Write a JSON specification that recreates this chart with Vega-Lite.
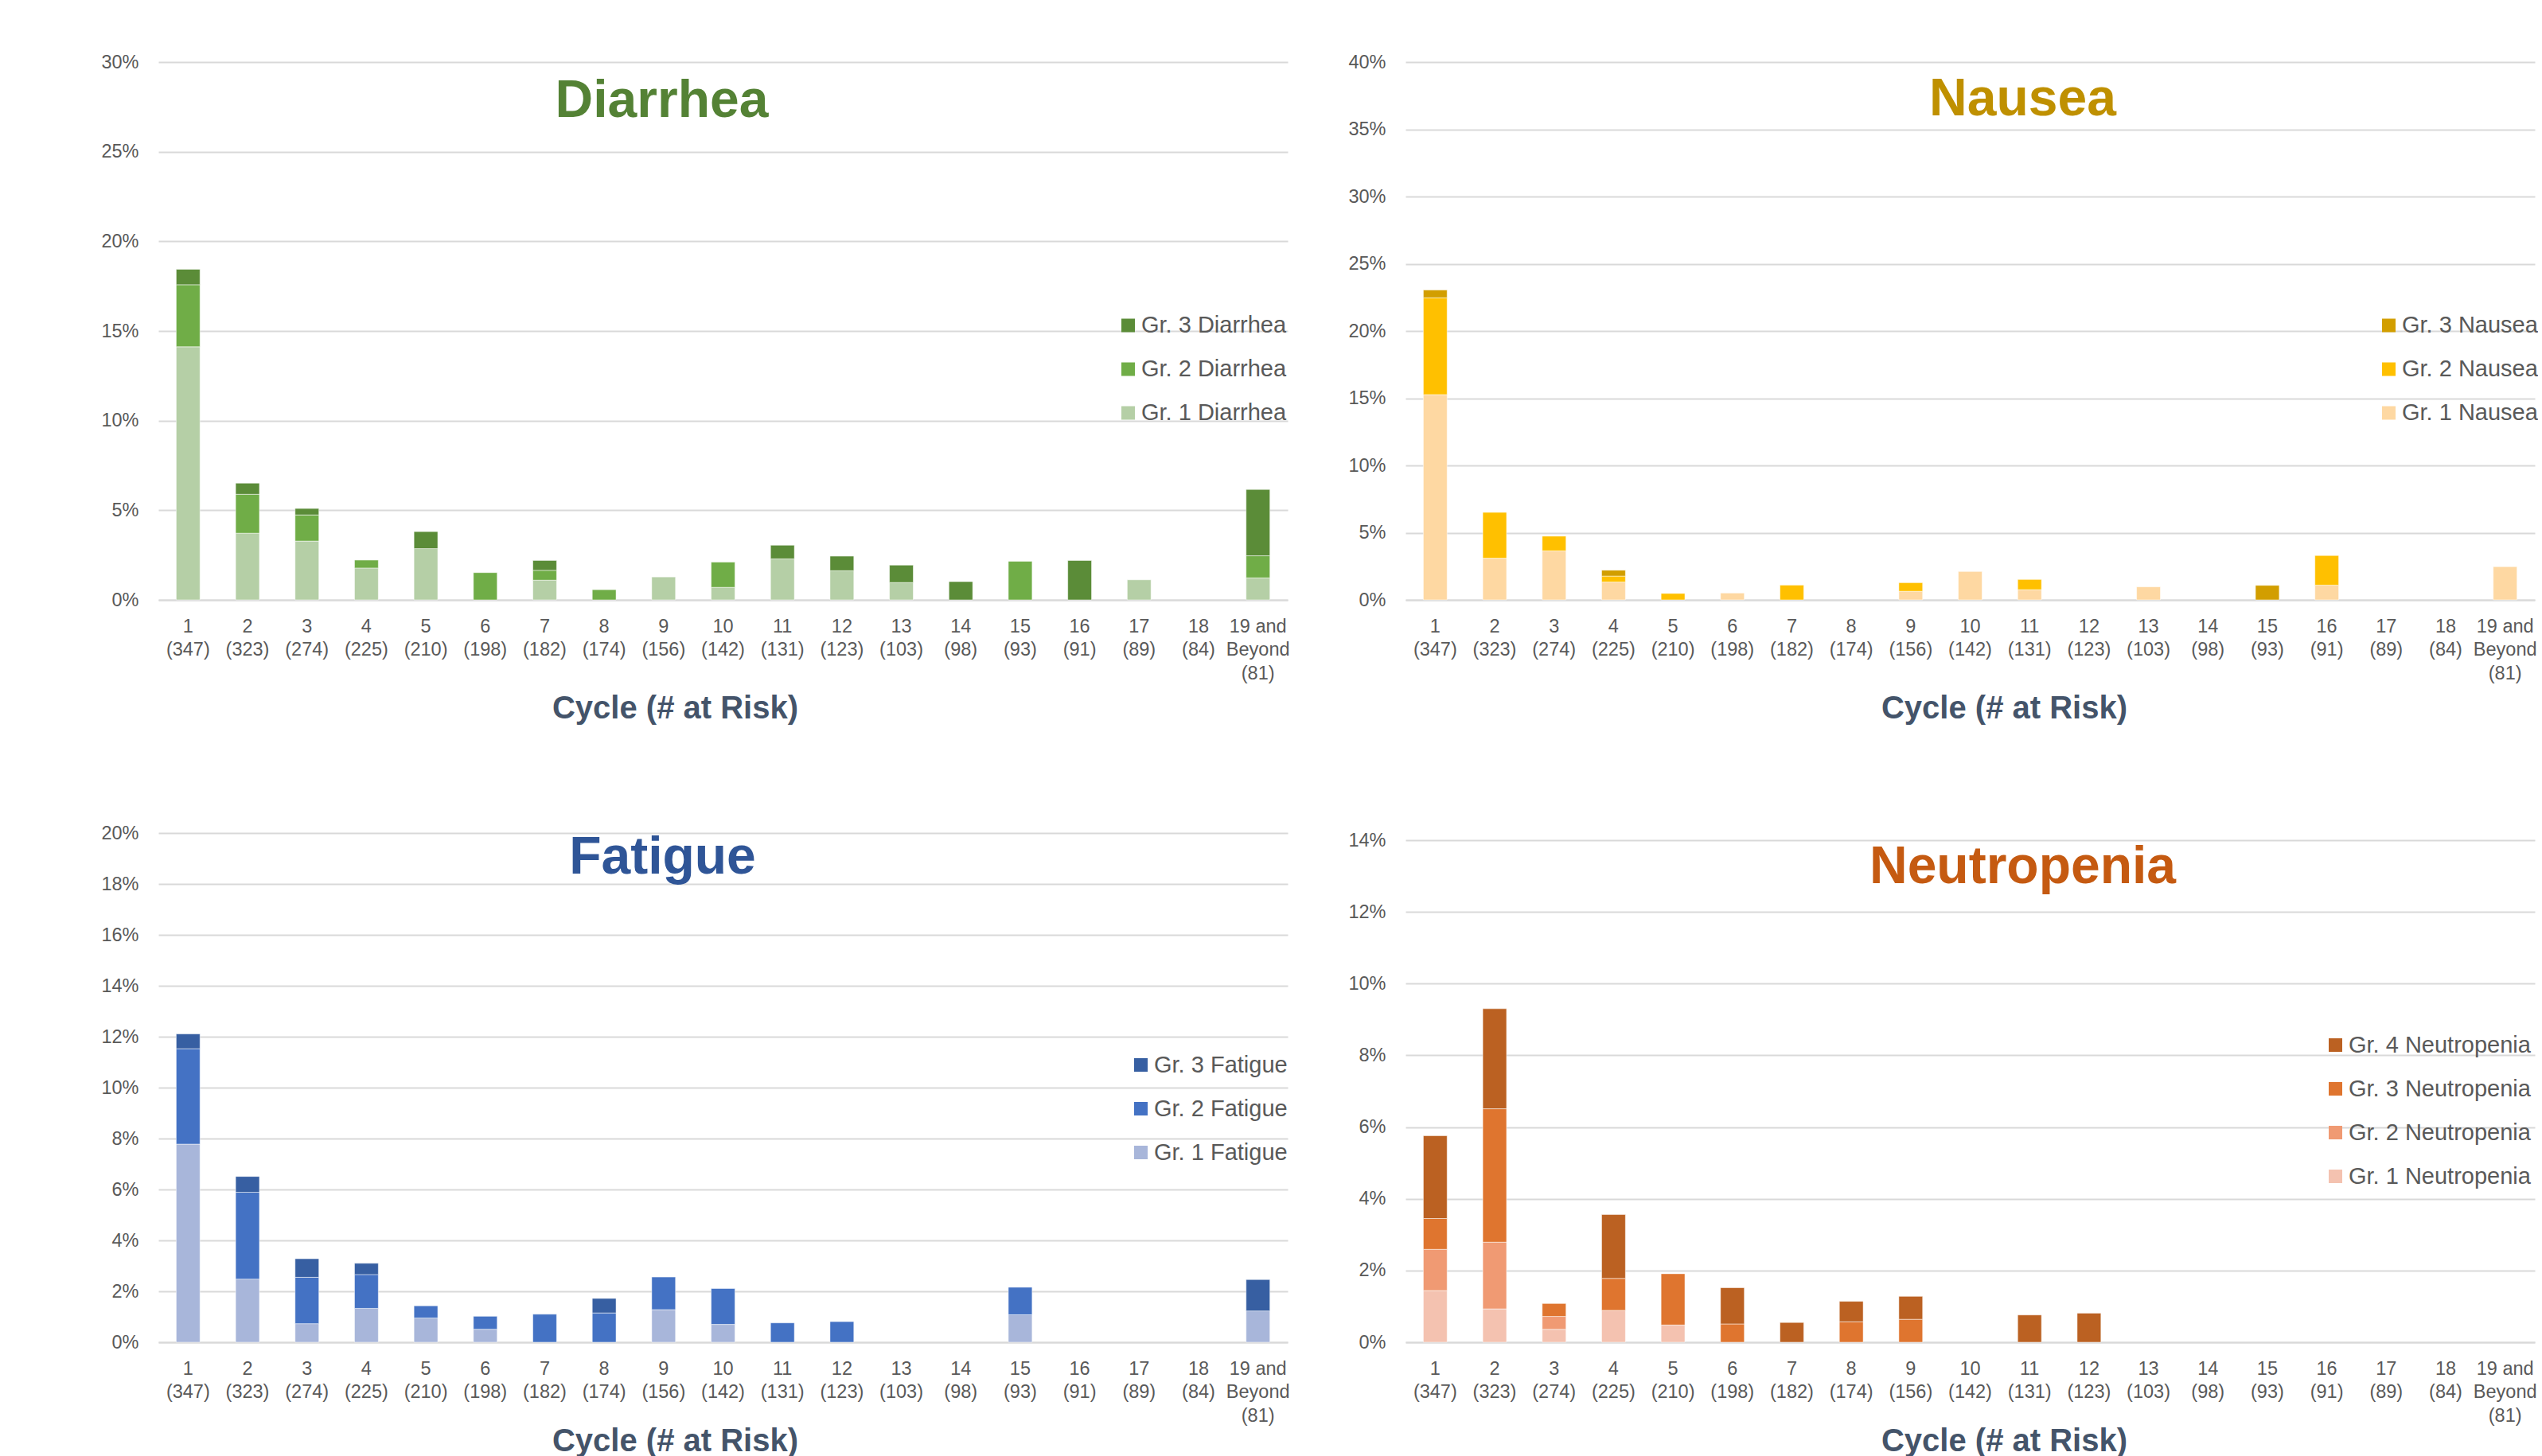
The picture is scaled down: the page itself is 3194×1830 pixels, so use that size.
{
  "$schema": "https://vega.github.io/schema/vega-lite/v6.json",
  "background": "white",
  "padding": {"left": 126, "top": 66, "right": 0, "bottom": 0},
  "bounds": "flush",
  "columns": 2,
  "spacing": {"row": 293, "column": 148},
  "resolve": {"scale": {"color": "independent", "x": "independent", "y": "independent"}, "legend": {"color": "independent"}},
  "datasets": {
    "rows": [
      {"panel": "Diarrhea", "cycle": "1|(347)", "grade": 1, "series": "Gr. 1 Diarrhea", "pct": 14.12},
      {"panel": "Diarrhea", "cycle": "1|(347)", "grade": 2, "series": "Gr. 2 Diarrhea", "pct": 3.46},
      {"panel": "Diarrhea", "cycle": "1|(347)", "grade": 3, "series": "Gr. 3 Diarrhea", "pct": 0.86},
      {"panel": "Diarrhea", "cycle": "2|(323)", "grade": 1, "series": "Gr. 1 Diarrhea", "pct": 3.72},
      {"panel": "Diarrhea", "cycle": "2|(323)", "grade": 2, "series": "Gr. 2 Diarrhea", "pct": 2.17},
      {"panel": "Diarrhea", "cycle": "2|(323)", "grade": 3, "series": "Gr. 3 Diarrhea", "pct": 0.62},
      {"panel": "Diarrhea", "cycle": "3|(274)", "grade": 1, "series": "Gr. 1 Diarrhea", "pct": 3.28},
      {"panel": "Diarrhea", "cycle": "3|(274)", "grade": 2, "series": "Gr. 2 Diarrhea", "pct": 1.46},
      {"panel": "Diarrhea", "cycle": "3|(274)", "grade": 3, "series": "Gr. 3 Diarrhea", "pct": 0.36},
      {"panel": "Diarrhea", "cycle": "4|(225)", "grade": 1, "series": "Gr. 1 Diarrhea", "pct": 1.78},
      {"panel": "Diarrhea", "cycle": "4|(225)", "grade": 2, "series": "Gr. 2 Diarrhea", "pct": 0.44},
      {"panel": "Diarrhea", "cycle": "5|(210)", "grade": 1, "series": "Gr. 1 Diarrhea", "pct": 2.86},
      {"panel": "Diarrhea", "cycle": "5|(210)", "grade": 3, "series": "Gr. 3 Diarrhea", "pct": 0.95},
      {"panel": "Diarrhea", "cycle": "6|(198)", "grade": 2, "series": "Gr. 2 Diarrhea", "pct": 1.52},
      {"panel": "Diarrhea", "cycle": "7|(182)", "grade": 1, "series": "Gr. 1 Diarrhea", "pct": 1.10},
      {"panel": "Diarrhea", "cycle": "7|(182)", "grade": 2, "series": "Gr. 2 Diarrhea", "pct": 0.55},
      {"panel": "Diarrhea", "cycle": "7|(182)", "grade": 3, "series": "Gr. 3 Diarrhea", "pct": 0.55},
      {"panel": "Diarrhea", "cycle": "8|(174)", "grade": 2, "series": "Gr. 2 Diarrhea", "pct": 0.57},
      {"panel": "Diarrhea", "cycle": "9|(156)", "grade": 1, "series": "Gr. 1 Diarrhea", "pct": 1.28},
      {"panel": "Diarrhea", "cycle": "10|(142)", "grade": 1, "series": "Gr. 1 Diarrhea", "pct": 0.70},
      {"panel": "Diarrhea", "cycle": "10|(142)", "grade": 2, "series": "Gr. 2 Diarrhea", "pct": 1.41},
      {"panel": "Diarrhea", "cycle": "11|(131)", "grade": 1, "series": "Gr. 1 Diarrhea", "pct": 2.29},
      {"panel": "Diarrhea", "cycle": "11|(131)", "grade": 3, "series": "Gr. 3 Diarrhea", "pct": 0.76},
      {"panel": "Diarrhea", "cycle": "12|(123)", "grade": 1, "series": "Gr. 1 Diarrhea", "pct": 1.63},
      {"panel": "Diarrhea", "cycle": "12|(123)", "grade": 3, "series": "Gr. 3 Diarrhea", "pct": 0.81},
      {"panel": "Diarrhea", "cycle": "13|(103)", "grade": 1, "series": "Gr. 1 Diarrhea", "pct": 0.97},
      {"panel": "Diarrhea", "cycle": "13|(103)", "grade": 3, "series": "Gr. 3 Diarrhea", "pct": 0.97},
      {"panel": "Diarrhea", "cycle": "14|(98)", "grade": 3, "series": "Gr. 3 Diarrhea", "pct": 1.02},
      {"panel": "Diarrhea", "cycle": "15|(93)", "grade": 2, "series": "Gr. 2 Diarrhea", "pct": 2.15},
      {"panel": "Diarrhea", "cycle": "16|(91)", "grade": 3, "series": "Gr. 3 Diarrhea", "pct": 2.20},
      {"panel": "Diarrhea", "cycle": "17|(89)", "grade": 1, "series": "Gr. 1 Diarrhea", "pct": 1.12},
      {"panel": "Diarrhea", "cycle": "19 and|Beyond|(81)", "grade": 1, "series": "Gr. 1 Diarrhea", "pct": 1.23},
      {"panel": "Diarrhea", "cycle": "19 and|Beyond|(81)", "grade": 2, "series": "Gr. 2 Diarrhea", "pct": 1.23},
      {"panel": "Diarrhea", "cycle": "19 and|Beyond|(81)", "grade": 3, "series": "Gr. 3 Diarrhea", "pct": 3.70},

      {"panel": "Nausea", "cycle": "1|(347)", "grade": 1, "series": "Gr. 1 Nausea", "pct": 15.27},
      {"panel": "Nausea", "cycle": "1|(347)", "grade": 2, "series": "Gr. 2 Nausea", "pct": 7.20},
      {"panel": "Nausea", "cycle": "1|(347)", "grade": 3, "series": "Gr. 3 Nausea", "pct": 0.58},
      {"panel": "Nausea", "cycle": "2|(323)", "grade": 1, "series": "Gr. 1 Nausea", "pct": 3.10},
      {"panel": "Nausea", "cycle": "2|(323)", "grade": 2, "series": "Gr. 2 Nausea", "pct": 3.41},
      {"panel": "Nausea", "cycle": "3|(274)", "grade": 1, "series": "Gr. 1 Nausea", "pct": 3.65},
      {"panel": "Nausea", "cycle": "3|(274)", "grade": 2, "series": "Gr. 2 Nausea", "pct": 1.09},
      {"panel": "Nausea", "cycle": "4|(225)", "grade": 1, "series": "Gr. 1 Nausea", "pct": 1.33},
      {"panel": "Nausea", "cycle": "4|(225)", "grade": 2, "series": "Gr. 2 Nausea", "pct": 0.44},
      {"panel": "Nausea", "cycle": "4|(225)", "grade": 3, "series": "Gr. 3 Nausea", "pct": 0.44},
      {"panel": "Nausea", "cycle": "5|(210)", "grade": 2, "series": "Gr. 2 Nausea", "pct": 0.48},
      {"panel": "Nausea", "cycle": "6|(198)", "grade": 1, "series": "Gr. 1 Nausea", "pct": 0.51},
      {"panel": "Nausea", "cycle": "7|(182)", "grade": 2, "series": "Gr. 2 Nausea", "pct": 1.10},
      {"panel": "Nausea", "cycle": "9|(156)", "grade": 1, "series": "Gr. 1 Nausea", "pct": 0.64},
      {"panel": "Nausea", "cycle": "9|(156)", "grade": 2, "series": "Gr. 2 Nausea", "pct": 0.64},
      {"panel": "Nausea", "cycle": "10|(142)", "grade": 1, "series": "Gr. 1 Nausea", "pct": 2.11},
      {"panel": "Nausea", "cycle": "11|(131)", "grade": 1, "series": "Gr. 1 Nausea", "pct": 0.76},
      {"panel": "Nausea", "cycle": "11|(131)", "grade": 2, "series": "Gr. 2 Nausea", "pct": 0.76},
      {"panel": "Nausea", "cycle": "13|(103)", "grade": 1, "series": "Gr. 1 Nausea", "pct": 0.97},
      {"panel": "Nausea", "cycle": "15|(93)", "grade": 3, "series": "Gr. 3 Nausea", "pct": 1.08},
      {"panel": "Nausea", "cycle": "16|(91)", "grade": 1, "series": "Gr. 1 Nausea", "pct": 1.10},
      {"panel": "Nausea", "cycle": "16|(91)", "grade": 2, "series": "Gr. 2 Nausea", "pct": 2.20},
      {"panel": "Nausea", "cycle": "19 and|Beyond|(81)", "grade": 1, "series": "Gr. 1 Nausea", "pct": 2.47},

      {"panel": "Fatigue", "cycle": "1|(347)", "grade": 1, "series": "Gr. 1 Fatigue", "pct": 7.78},
      {"panel": "Fatigue", "cycle": "1|(347)", "grade": 2, "series": "Gr. 2 Fatigue", "pct": 3.75},
      {"panel": "Fatigue", "cycle": "1|(347)", "grade": 3, "series": "Gr. 3 Fatigue", "pct": 0.58},
      {"panel": "Fatigue", "cycle": "2|(323)", "grade": 1, "series": "Gr. 1 Fatigue", "pct": 2.48},
      {"panel": "Fatigue", "cycle": "2|(323)", "grade": 2, "series": "Gr. 2 Fatigue", "pct": 3.41},
      {"panel": "Fatigue", "cycle": "2|(323)", "grade": 3, "series": "Gr. 3 Fatigue", "pct": 0.62},
      {"panel": "Fatigue", "cycle": "3|(274)", "grade": 1, "series": "Gr. 1 Fatigue", "pct": 0.73},
      {"panel": "Fatigue", "cycle": "3|(274)", "grade": 2, "series": "Gr. 2 Fatigue", "pct": 1.82},
      {"panel": "Fatigue", "cycle": "3|(274)", "grade": 3, "series": "Gr. 3 Fatigue", "pct": 0.73},
      {"panel": "Fatigue", "cycle": "4|(225)", "grade": 1, "series": "Gr. 1 Fatigue", "pct": 1.33},
      {"panel": "Fatigue", "cycle": "4|(225)", "grade": 2, "series": "Gr. 2 Fatigue", "pct": 1.33},
      {"panel": "Fatigue", "cycle": "4|(225)", "grade": 3, "series": "Gr. 3 Fatigue", "pct": 0.44},
      {"panel": "Fatigue", "cycle": "5|(210)", "grade": 1, "series": "Gr. 1 Fatigue", "pct": 0.95},
      {"panel": "Fatigue", "cycle": "5|(210)", "grade": 2, "series": "Gr. 2 Fatigue", "pct": 0.48},
      {"panel": "Fatigue", "cycle": "6|(198)", "grade": 1, "series": "Gr. 1 Fatigue", "pct": 0.51},
      {"panel": "Fatigue", "cycle": "6|(198)", "grade": 2, "series": "Gr. 2 Fatigue", "pct": 0.51},
      {"panel": "Fatigue", "cycle": "7|(182)", "grade": 2, "series": "Gr. 2 Fatigue", "pct": 1.10},
      {"panel": "Fatigue", "cycle": "8|(174)", "grade": 2, "series": "Gr. 2 Fatigue", "pct": 1.15},
      {"panel": "Fatigue", "cycle": "8|(174)", "grade": 3, "series": "Gr. 3 Fatigue", "pct": 0.57},
      {"panel": "Fatigue", "cycle": "9|(156)", "grade": 1, "series": "Gr. 1 Fatigue", "pct": 1.28},
      {"panel": "Fatigue", "cycle": "9|(156)", "grade": 2, "series": "Gr. 2 Fatigue", "pct": 1.28},
      {"panel": "Fatigue", "cycle": "10|(142)", "grade": 1, "series": "Gr. 1 Fatigue", "pct": 0.70},
      {"panel": "Fatigue", "cycle": "10|(142)", "grade": 2, "series": "Gr. 2 Fatigue", "pct": 1.41},
      {"panel": "Fatigue", "cycle": "11|(131)", "grade": 2, "series": "Gr. 2 Fatigue", "pct": 0.76},
      {"panel": "Fatigue", "cycle": "12|(123)", "grade": 2, "series": "Gr. 2 Fatigue", "pct": 0.81},
      {"panel": "Fatigue", "cycle": "15|(93)", "grade": 1, "series": "Gr. 1 Fatigue", "pct": 1.08},
      {"panel": "Fatigue", "cycle": "15|(93)", "grade": 2, "series": "Gr. 2 Fatigue", "pct": 1.08},
      {"panel": "Fatigue", "cycle": "19 and|Beyond|(81)", "grade": 1, "series": "Gr. 1 Fatigue", "pct": 1.23},
      {"panel": "Fatigue", "cycle": "19 and|Beyond|(81)", "grade": 3, "series": "Gr. 3 Fatigue", "pct": 1.23},

      {"panel": "Neutropenia", "cycle": "1|(347)", "grade": 1, "series": "Gr. 1 Neutropenia", "pct": 1.44},
      {"panel": "Neutropenia", "cycle": "1|(347)", "grade": 2, "series": "Gr. 2 Neutropenia", "pct": 1.15},
      {"panel": "Neutropenia", "cycle": "1|(347)", "grade": 3, "series": "Gr. 3 Neutropenia", "pct": 0.86},
      {"panel": "Neutropenia", "cycle": "1|(347)", "grade": 4, "series": "Gr. 4 Neutropenia", "pct": 2.31},
      {"panel": "Neutropenia", "cycle": "2|(323)", "grade": 1, "series": "Gr. 1 Neutropenia", "pct": 0.93},
      {"panel": "Neutropenia", "cycle": "2|(323)", "grade": 2, "series": "Gr. 2 Neutropenia", "pct": 1.86},
      {"panel": "Neutropenia", "cycle": "2|(323)", "grade": 3, "series": "Gr. 3 Neutropenia", "pct": 3.72},
      {"panel": "Neutropenia", "cycle": "2|(323)", "grade": 4, "series": "Gr. 4 Neutropenia", "pct": 2.79},
      {"panel": "Neutropenia", "cycle": "3|(274)", "grade": 1, "series": "Gr. 1 Neutropenia", "pct": 0.36},
      {"panel": "Neutropenia", "cycle": "3|(274)", "grade": 2, "series": "Gr. 2 Neutropenia", "pct": 0.36},
      {"panel": "Neutropenia", "cycle": "3|(274)", "grade": 3, "series": "Gr. 3 Neutropenia", "pct": 0.36},
      {"panel": "Neutropenia", "cycle": "4|(225)", "grade": 1, "series": "Gr. 1 Neutropenia", "pct": 0.89},
      {"panel": "Neutropenia", "cycle": "4|(225)", "grade": 3, "series": "Gr. 3 Neutropenia", "pct": 0.89},
      {"panel": "Neutropenia", "cycle": "4|(225)", "grade": 4, "series": "Gr. 4 Neutropenia", "pct": 1.78},
      {"panel": "Neutropenia", "cycle": "5|(210)", "grade": 1, "series": "Gr. 1 Neutropenia", "pct": 0.48},
      {"panel": "Neutropenia", "cycle": "5|(210)", "grade": 3, "series": "Gr. 3 Neutropenia", "pct": 1.43},
      {"panel": "Neutropenia", "cycle": "6|(198)", "grade": 3, "series": "Gr. 3 Neutropenia", "pct": 0.51},
      {"panel": "Neutropenia", "cycle": "6|(198)", "grade": 4, "series": "Gr. 4 Neutropenia", "pct": 1.01},
      {"panel": "Neutropenia", "cycle": "7|(182)", "grade": 4, "series": "Gr. 4 Neutropenia", "pct": 0.55},
      {"panel": "Neutropenia", "cycle": "8|(174)", "grade": 3, "series": "Gr. 3 Neutropenia", "pct": 0.57},
      {"panel": "Neutropenia", "cycle": "8|(174)", "grade": 4, "series": "Gr. 4 Neutropenia", "pct": 0.57},
      {"panel": "Neutropenia", "cycle": "9|(156)", "grade": 3, "series": "Gr. 3 Neutropenia", "pct": 0.64},
      {"panel": "Neutropenia", "cycle": "9|(156)", "grade": 4, "series": "Gr. 4 Neutropenia", "pct": 0.64},
      {"panel": "Neutropenia", "cycle": "11|(131)", "grade": 4, "series": "Gr. 4 Neutropenia", "pct": 0.76},
      {"panel": "Neutropenia", "cycle": "12|(123)", "grade": 4, "series": "Gr. 4 Neutropenia", "pct": 0.81}
    ]
  },
  "concat": [
    {
      "title": {"text": "Diarrhea", "color": "#548235", "offset": -95, "dx": -77},
      "width": 1419,
      "height": 676,
      "data": {"name": "rows"},
      "transform": [{"filter": "datum.panel === 'Diarrhea'"}],
      "mark": {"type": "bar", "stroke": "white", "strokeWidth": 1, "strokeOpacity": 0.5},
      "encoding": {
        "x": {"field": "cycle", "type": "nominal", "sort": null,
          "scale": {"domain": ["1|(347)", "2|(323)", "3|(274)", "4|(225)", "5|(210)", "6|(198)", "7|(182)", "8|(174)", "9|(156)", "10|(142)", "11|(131)", "12|(123)", "13|(103)", "14|(98)", "15|(93)", "16|(91)", "17|(89)", "18|(84)", "19 and|Beyond|(81)"], "paddingInner": 0.6, "paddingOuter": 0.3},
          "axis": {"title": "Cycle (# at Risk)", "titleX": 649, "titleY": 148}},
        "y": {"field": "pct", "type": "quantitative", "stack": "zero",
          "scale": {"domain": [0, 30], "nice": false},
          "axis": {"values": [0, 5, 10, 15, 20, 25, 30], "title": null}},
        "color": {"field": "series", "type": "nominal",
          "scale": {"domain": ["Gr. 3 Diarrhea", "Gr. 2 Diarrhea", "Gr. 1 Diarrhea"], "range": ["#5B8C38", "#70AD47", "#B5CFA6"]},
          "legend": {"legendX": 1204, "legendY": 316.5}},
        "order": {"field": "grade", "type": "quantitative", "sort": "ascending"}
      }
    },
    {
      "title": {"text": "Nausea", "color": "#BF9000", "offset": -92.5, "dx": 66},
      "width": 1419,
      "height": 676,
      "data": {"name": "rows"},
      "transform": [{"filter": "datum.panel === 'Nausea'"}],
      "mark": {"type": "bar", "stroke": "white", "strokeWidth": 1, "strokeOpacity": 0.5},
      "encoding": {
        "x": {"field": "cycle", "type": "nominal", "sort": null,
          "scale": {"domain": ["1|(347)", "2|(323)", "3|(274)", "4|(225)", "5|(210)", "6|(198)", "7|(182)", "8|(174)", "9|(156)", "10|(142)", "11|(131)", "12|(123)", "13|(103)", "14|(98)", "15|(93)", "16|(91)", "17|(89)", "18|(84)", "19 and|Beyond|(81)"], "paddingInner": 0.6, "paddingOuter": 0.3},
          "axis": {"title": "Cycle (# at Risk)", "titleX": 752, "titleY": 148}},
        "y": {"field": "pct", "type": "quantitative", "stack": "zero",
          "scale": {"domain": [0, 40], "nice": false},
          "axis": {"values": [0, 5, 10, 15, 20, 25, 30, 35, 40], "title": null}},
        "color": {"field": "series", "type": "nominal",
          "scale": {"domain": ["Gr. 3 Nausea", "Gr. 2 Nausea", "Gr. 1 Nausea"], "range": ["#D29E00", "#FFC000", "#FED8A2"]},
          "legend": {"legendX": 1221, "legendY": 316.5}},
        "order": {"field": "grade", "type": "quantitative", "sort": "ascending"}
      }
    },
    {
      "title": {"text": "Fatigue", "color": "#2F5597", "offset": -77, "dx": -76},
      "width": 1419,
      "height": 640,
      "data": {"name": "rows"},
      "transform": [{"filter": "datum.panel === 'Fatigue'"}],
      "mark": {"type": "bar", "stroke": "white", "strokeWidth": 1, "strokeOpacity": 0.5},
      "encoding": {
        "x": {"field": "cycle", "type": "nominal", "sort": null,
          "scale": {"domain": ["1|(347)", "2|(323)", "3|(274)", "4|(225)", "5|(210)", "6|(198)", "7|(182)", "8|(174)", "9|(156)", "10|(142)", "11|(131)", "12|(123)", "13|(103)", "14|(98)", "15|(93)", "16|(91)", "17|(89)", "18|(84)", "19 and|Beyond|(81)"], "paddingInner": 0.6, "paddingOuter": 0.3},
          "axis": {"title": "Cycle (# at Risk)", "titleX": 649, "titleY": 136}},
        "y": {"field": "pct", "type": "quantitative", "stack": "zero",
          "scale": {"domain": [0, 20], "nice": false},
          "axis": {"values": [0, 2, 4, 6, 8, 10, 12, 14, 16, 18, 20], "title": null}},
        "color": {"field": "series", "type": "nominal",
          "scale": {"domain": ["Gr. 3 Fatigue", "Gr. 2 Fatigue", "Gr. 1 Fatigue"], "range": ["#375FA2", "#4472C4", "#A8B6DA"]},
          "legend": {"legendX": 1220, "legendY": 277}},
        "order": {"field": "grade", "type": "quantitative", "sort": "ascending"}
      }
    },
    {
      "title": {"text": "Neutropenia", "color": "#C55A11", "offset": -80, "dx": 66},
      "width": 1419,
      "height": 640,
      "data": {"name": "rows"},
      "transform": [{"filter": "datum.panel === 'Neutropenia'"}],
      "mark": {"type": "bar", "stroke": "white", "strokeWidth": 1, "strokeOpacity": 0.5},
      "encoding": {
        "x": {"field": "cycle", "type": "nominal", "sort": null,
          "scale": {"domain": ["1|(347)", "2|(323)", "3|(274)", "4|(225)", "5|(210)", "6|(198)", "7|(182)", "8|(174)", "9|(156)", "10|(142)", "11|(131)", "12|(123)", "13|(103)", "14|(98)", "15|(93)", "16|(91)", "17|(89)", "18|(84)", "19 and|Beyond|(81)"], "paddingInner": 0.6, "paddingOuter": 0.3},
          "axis": {"title": "Cycle (# at Risk)", "titleX": 752, "titleY": 136}},
        "y": {"field": "pct", "type": "quantitative", "stack": "zero",
          "scale": {"domain": [0, 14.2], "nice": false},
          "axis": {"values": [0, 2, 4, 6, 8, 10, 12, 14], "title": null}},
        "color": {"field": "series", "type": "nominal",
          "scale": {"domain": ["Gr. 4 Neutropenia", "Gr. 3 Neutropenia", "Gr. 2 Neutropenia", "Gr. 1 Neutropenia"], "range": ["#BB6122", "#DF752F", "#F09A73", "#F4C2B0"]},
          "legend": {"legendX": 1154, "legendY": 252}},
        "order": {"field": "grade", "type": "quantitative", "sort": "ascending"}
      }
    }
  ],
  "config": {
    "font": "Liberation Sans",
    "view": {"stroke": null},
    "title": {"font": "Liberation Sans", "fontWeight": "bold", "fontSize": 66, "anchor": "middle", "frame": "group", "baseline": "alphabetic"},
    "axis": {"labelFont": "Liberation Sans", "labelColor": "#595959", "labelFontSize": 23.5, "gridColor": "#D9D9D9", "gridWidth": 2, "domainColor": "#D9D9D9", "domainWidth": 2, "ticks": false,
      "titleFont": "Liberation Sans", "titleFontSize": 40, "titleFontWeight": "bold", "titleColor": "#44546A", "titleBaseline": "alphabetic", "titleAlign": "center", "labelOverlap": false, "labelBound": false},
    "axisX": {"grid": false, "labelAngle": 0, "labelPadding": 21, "labelBaseline": "top", "labelLineHeight": 29.5, "labelExpr": "split(datum.label, '|')"},
    "axisY": {"domain": false, "grid": true, "labelPadding": 25, "labelExpr": "datum.value + '%'"},
    "legend": {"orient": "none", "title": null, "labelFont": "Liberation Sans", "labelFontSize": 29, "labelColor": "#595959", "labelLimit": 400, "symbolType": "square", "symbolSize": 289, "symbolStrokeWidth": 0, "symbolOpacity": 1, "rowPadding": 25, "labelOffset": 2, "padding": 0}
  }
}
